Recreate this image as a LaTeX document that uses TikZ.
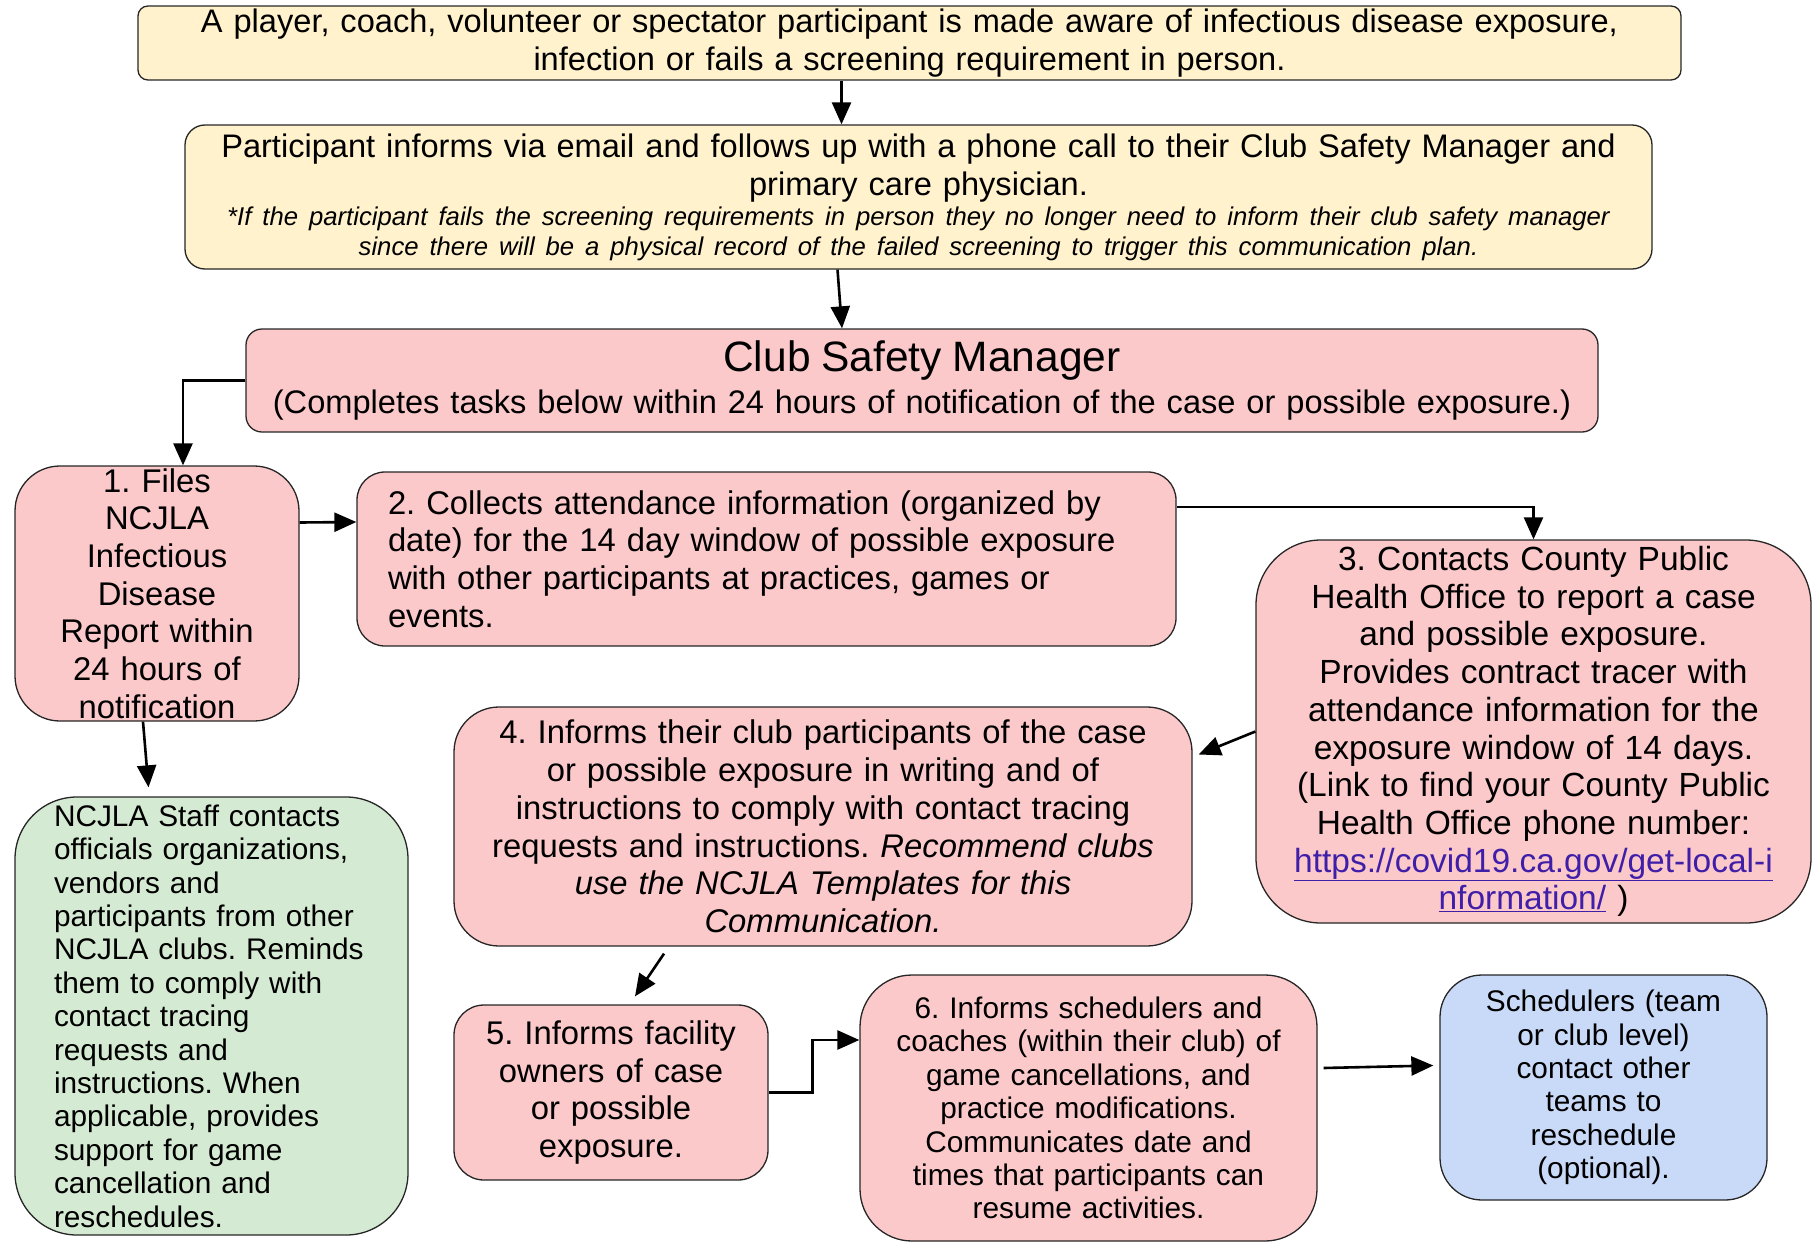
\documentclass[tikz,border=0pt]{standalone}
\usepackage{fontspec}
\setmainfont{Liberation Sans}
\usetikzlibrary{arrows.meta}
\frenchspacing

\definecolor{notepale}{HTML}{FFF2CC}
\definecolor{taskpink}{HTML}{FCC9CB}
\definecolor{staffgreen}{HTML}{D5EAD2}
\definecolor{schedblue}{HTML}{C9DAF8}
\definecolor{linkpurple}{HTML}{3F1FA8}

\newcommand{\weblink}[1]{\textcolor{linkpurple}{\underline{#1}}}

\begin{document}
\begin{tikzpicture}[x=1pt, y=-1pt,
    card/.style={draw=black!85, line width=1.3pt, inner sep=0pt, align=center,
        font=\fontsize{32.8}{37.7}\selectfont},
    smallcard/.style={card, font=\fontsize{29.8}{33.4}\selectfont},
    flow/.style={line width=2.6pt, -{Triangle[length=22pt, width=19pt]}}]
    \useasboundingbox (0, 0) rectangle (1818, 1242);

    % top of the chain
    \node[card, fill=notepale, rounded corners=10pt, minimum width=1543pt, minimum height=74pt,
        text width=1530pt, font=\fontsize{32.6}{37.7}\selectfont] (aware) at (909.5, 43)
        {A player, coach, volunteer or spectator participant is made aware of infectious disease exposure,\\
         infection or fails a screening requirement in person.};
    \node[card, fill=notepale, rounded corners=20pt, minimum width=1467pt, minimum height=144pt,
        text width=1450pt] (inform) at (918.5, 197)
        {{\fontsize{32.6}{38}\selectfont Participant informs via email and follows up with a phone call to their Club Safety Manager and\\
          primary care physician.\par}
         {\fontsize{25.7}{30}\selectfont\itshape *If the participant fails the screening requirements in person they no longer need to inform their club safety manager\\
          since there will be a physical record of the failed screening to trigger this communication plan.\par}};
    \node[card, fill=taskpink, rounded corners=16pt, minimum width=1352pt, minimum height=103pt,
        text width=1340pt] (csm) at (922, 380.5)
        {{\fontsize{42.5}{42}\selectfont Club Safety Manager\par}
         {\fontsize{32.6}{42}\selectfont (Completes tasks below within 24 hours of notification of the case or possible exposure.)\par}};

    % tasks of the club safety manager
    \node[card, fill=taskpink, rounded corners=45pt, minimum width=284pt, minimum height=255pt,
        text width=280pt] (files) at (157, 593.5)
        {1. Files\\ NCJLA\\ Infectious\\ Disease\\ Report within\\ 24 hours of\\ notification};
    \node[card, fill=taskpink, rounded corners=28pt, minimum width=819pt, minimum height=174pt,
        text width=757pt, inner xsep=31pt, align=left] (collect) at (766.5, 559)
        {2. Collects attendance information (organized by\\
         date) for the 14 day window of possible exposure\\
         with other participants at practices, games or\\
         events.};
    \node[card, fill=taskpink, rounded corners=65pt, minimum width=555pt, minimum height=383pt,
        text width=545pt, font=\fontsize{33.5}{37.7}\selectfont] (contacts) at (1533.5, 731.5)
        {3. Contacts County Public\\ Health Office to report a case\\ and possible exposure.\\
         Provides contract tracer with\\ attendance information for the\\ exposure window of 14 days.\\
         (Link to find your County Public\\ Health Office phone number:\\
         \weblink{https://covid19.ca.gov/get-local-i}\\ \weblink{nformation/} )};
    \node[card, fill=taskpink, rounded corners=45pt, minimum width=738pt, minimum height=239pt,
        text width=728pt] (informs) at (823, 826.5)
        {4. Informs their club participants of the case\\
         or possible exposure in writing and of\\
         instructions to comply with contact tracing\\
         requests and instructions. \textit{Recommend clubs}\\
         \textit{use the NCJLA Templates for this}\\
         \textit{Communication.}};
    \node[smallcard, fill=staffgreen, rounded corners=62pt, minimum width=393pt, minimum height=438pt,
        text width=315pt, inner xsep=39pt, align=left] (staff) at (211.5, 1016)
        {NCJLA Staff contacts\\ officials organizations,\\ vendors and\\ participants from other\\
         NCJLA clubs. Reminds\\ them to comply with\\ contact tracing\\ requests and\\
         instructions. When\\ applicable, provides\\ support for game\\ cancellation and\\ reschedules.};
    \node[card, fill=taskpink, rounded corners=30pt, minimum width=314pt, minimum height=175pt,
        text width=305pt] (facility) at (611, 1092.5)
        {5. Informs facility\\ owners of case\\ or possible\\ exposure.};
    \node[smallcard, fill=taskpink, rounded corners=52pt, minimum width=457pt, minimum height=266pt,
        text width=447pt] (notify) at (1088.5, 1108)
        {6. Informs schedulers and\\ coaches (within their club) of\\ game cancellations, and\\
         practice modifications.\\ Communicates date and\\ times that participants can\\ resume activities.};
    \node[smallcard, fill=schedblue, rounded corners=42pt, minimum width=327pt, minimum height=225pt,
        text width=317pt] (resched) at (1603.5, 1087.5)
        {Schedulers (team\\ or club level)\\ contact other\\ teams to\\ reschedule\\ (optional).};

    % connectors
    \draw[flow] ([xshift=-68pt]aware.south) -- ([xshift=-77pt]inform.north);
    \draw[flow] ([xshift=-81pt]inform.south) -- ([xshift=-80pt]csm.north);
    \draw[flow] (csm.west) -| ([xshift=26pt]files.north);
    \draw[flow] ([yshift=71pt]files.east) -- ([yshift=37pt]collect.west);
    \draw[flow] ([yshift=52pt]collect.east) -| (contacts.north);
    \draw[flow] (contacts.west) -- ([shift={(6pt,72pt)}]informs.east);
    \draw[flow] ([xshift=-14pt]files.south) -- ([shift={(-63pt,9pt)}]staff.north);
    \draw[flow] ([shift={(-159pt,-7pt)}]informs.south) -- ([shift={(24pt,8pt)}]facility.north);
    \draw[flow] (facility.east) -- ++(44, 0) |- ([yshift=68pt]notify.west);
    \draw[flow] ([shift={(6pt,40pt)}]notify.east) -- ([shift={(-6pt,22pt)}]resched.west);
\end{tikzpicture}
\end{document}
